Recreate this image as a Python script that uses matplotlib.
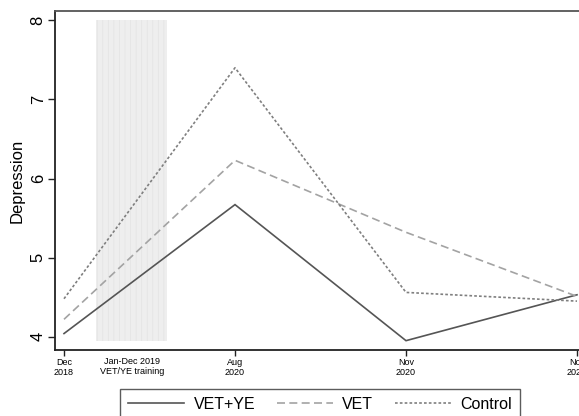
import matplotlib
matplotlib.use("Agg")
import matplotlib.pyplot as plt

# Survey waves and mean depression scores by treatment arm
waves = [1, 2, 3, 4]
wave_labels = ["Dec\n2018", "Aug\n2020", "Nov\n2020", "Nov\n2021"]
vet_ye = [4.04, 5.67, 3.95, 4.53]
vet = [4.22, 6.23, 5.32, 4.51]
control = [4.48, 7.40, 4.56, 4.45]

# Training period (Jan-Dec 2019) placed between the first two waves
training_start, training_end = 1.19, 1.60
training_low, training_high = 3.95, 8.0
training_label_pos = 1.40
training_label = "Jan-Dec 2019\nVET/YE training"

plt.rcParams["font.family"] = ["Liberation Sans", "DejaVu Sans"]
plt.rcParams["hatch.linewidth"] = 0.5
plt.rcParams["hatch.color"] = "#e3e3e3"

fig = plt.figure(figsize=(5.79, 4.16), dpi=100)
ax = fig.add_axes([54.7 / 579, 66 / 416, (586.3 - 54.7) / 579, (350 - 11.3) / 416])

ax.fill_between([training_start, training_end], training_low, training_high,
                facecolor="#eeeeee", edgecolor="#e3e3e3", hatch="|||", linewidth=0,
                zorder=1)

lw = 1.2
ax.plot(waves, vet_ye, color="#555555", lw=lw, solid_joinstyle="miter",
        label="VET+YE", zorder=3)
ax.plot(waves, vet, color="#a3a3a3", lw=lw, linestyle=(0, (4.8, 2.6)),
        label="VET", zorder=3)
ax.plot(waves, control, color="#7f7f7f", lw=lw, linestyle=(0, (1.6, 1.3)),
        label="Control", zorder=3)

ax.set_xlim(0.9456, 4.0544)
ax.set_ylim(3.832, 8.114)

ax.set_xticks(waves)
ax.set_xticklabels(wave_labels, fontsize=6.5, linespacing=1.1)
ax.set_xticks([training_label_pos], minor=True)
ax.set_xticklabels([training_label], minor=True, fontsize=6.5, linespacing=1.1)
ax.tick_params(axis="x", which="major", length=4.5, width=1.0, pad=1.5,
               color="#222222")
ax.tick_params(axis="x", which="minor", length=0, pad=5)

ax.set_yticks([4, 5, 6, 7, 8])
ax.set_yticklabels(["4", "5", "6", "7", "8"], fontsize=12, rotation=90,
                   va="center")
ax.tick_params(axis="y", length=5, width=1.0, pad=1.5, color="#222222")
ax.set_ylabel("Depression", fontsize=12, labelpad=4)

for side in ("left", "bottom"):
    ax.spines[side].set_color("#222222")
    ax.spines[side].set_linewidth(1.3)
ax.spines["top"].set_color("#555555")
ax.spines["top"].set_linewidth(1.3)
ax.spines["right"].set_visible(False)

leg = fig.legend(loc="upper left", bbox_to_anchor=(120 / 579, 1 - 389 / 416),
                 ncol=3, fontsize=11.5, frameon=True, fancybox=False,
                 handlelength=3.5, handletextpad=0.6, columnspacing=1.35,
                 borderpad=0.5, borderaxespad=0)
frame = leg.get_frame()
frame.set_edgecolor("#333333")
frame.set_linewidth(1.0)

fig.savefig("out.png", dpi=100)
